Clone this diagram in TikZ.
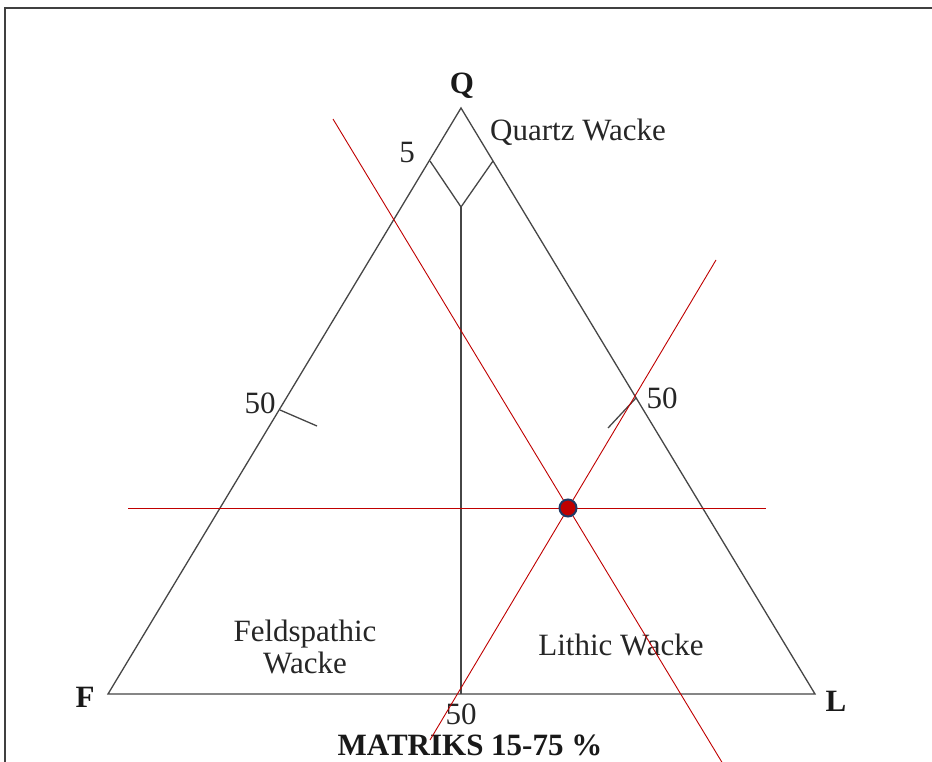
\documentclass[tikz,border=0pt]{standalone}
\usepackage{fontspec}
\setmainfont{Liberation Serif}
\definecolor{tri}{RGB}{70,70,70}
\definecolor{redl}{RGB}{192,0,0}
\definecolor{navy}{RGB}{31,56,100}
\begin{document}
\begin{tikzpicture}[x=1pt,y=-1pt,
  triline/.style={draw=tri,line width=1.3pt},
  redline/.style={draw=redl,line width=0.9pt},
  lbl/.style={font=\fontsize{31}{32}\selectfont,inner sep=0pt,text=black!85},
  vlbl/.style={font=\fontsize{31}{33}\selectfont\bfseries,inner sep=0pt,text=black!90}]
\useasboundingbox (0,0) rectangle (932,762);
\fill[white] (0,0) rectangle (932,762);
% frame
\draw[black!75,line width=2pt] (5,762) -- (5,8) -- (933,8);
% triangle
\coordinate (Q) at (461,108);
\coordinate (F) at (108,694);
\coordinate (L) at (815,694);
\draw[triline,line join=miter] (Q) -- (F) -- (L) -- cycle;
% inner lines
\coordinate (dl) at (430,161);
\coordinate (dr) at (493,161);
\coordinate (db) at (461,207);
\coordinate (fb) at (461,694);
\draw[triline] (dl) -- (db) -- (dr);
\draw[triline] (db) -- (fb);
% 50 ticks
\coordinate (t1a) at (280,410);
\coordinate (t1b) at (317,426);
\coordinate (t2a) at (636,398);
\coordinate (t2b) at (608,428);
\draw[triline] (t1a) -- (t1b);
\draw[triline] (t2a) -- (t2b);
% labels
\node[vlbl] (lQ) at (462,86) {Q};
\node[vlbl] (lF) at (85,697) {F};
\node[vlbl] (lL) at (836,701) {L};
\node[lbl] (l5) at (407,153) {5};
\node[lbl] (l50a) at (260,403) {50};
\node[lbl] (l50b) at (662,398) {50};
\node[lbl] (l50c) at (461,714) {50};
\node[lbl] (qw) at (578,132) {Quartz Wacke};
\node[lbl,align=center] (fw) at (305,647) {Feldspathic\\Wacke};
\node[lbl] (lw) at (621,645) {Lithic Wacke};
\node[vlbl,font=\fontsize{31}{33}\selectfont\bfseries] (mat) at (470,745) {MATRIKS 15-75 \%};
% red lines
\coordinate (P) at (568,508);
\coordinate (h1) at (128,508);
\coordinate (h2) at (766,508);
\coordinate (a1) at (333,119);
\coordinate (a2) at (723,764);
\coordinate (b1) at (716,260);
\coordinate (b2) at (430,740);
\draw[redline] (h1) -- (h2);
\draw[redline] (a1) -- (a2);
\draw[redline] (b1) -- (b2);
\node[circle,fill=redl,draw=navy,line width=2pt,minimum size=17pt,inner sep=0pt] (pt) at (P) {};
\end{tikzpicture}
\end{document}
